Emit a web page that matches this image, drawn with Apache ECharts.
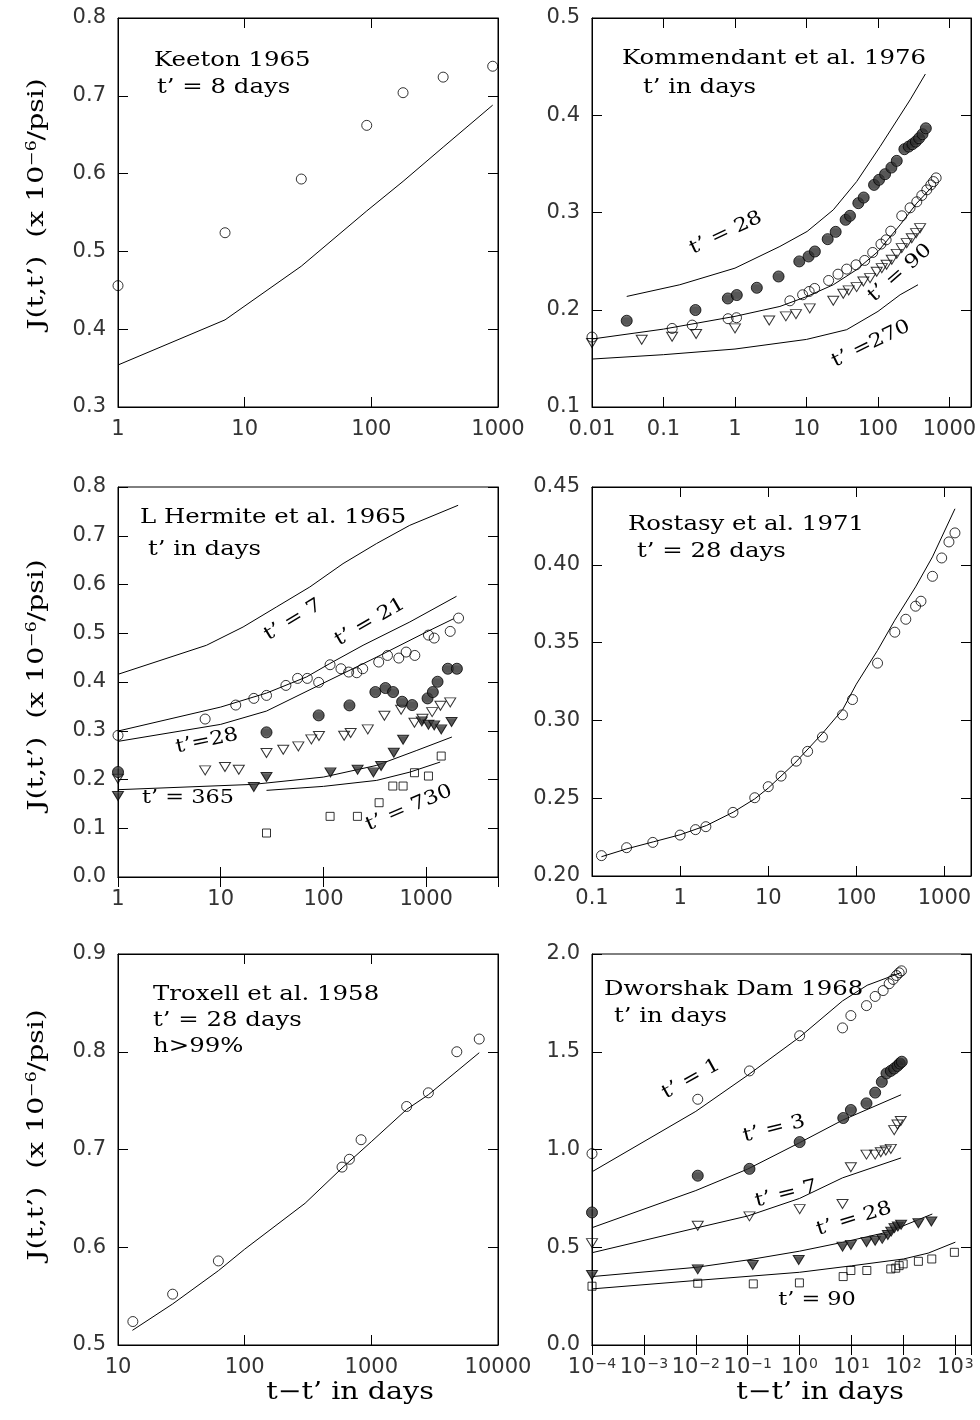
<!DOCTYPE html>
<html><head><meta charset="utf-8">
<script src="https://cdn.jsdelivr.net/npm/echarts@6/dist/echarts.min.js"></script>
<style>html,body{margin:0;padding:0;background:#fff}#c{width:980px;height:1420px}</style>
</head><body><div id="c"></div>
<script>
// ---------- DATA ----------
// Panel 1: Keeton 1965
const keetonData = [[1,0.456],[7,0.524],[28,0.593],[92,0.662],[178,0.704],[369,0.724],[908,0.738]];
const keetonFit  = [[1,0.354],[7,0.412],[28,0.481],[92,0.552],[178,0.590],[369,0.634],[908,0.688]];
// Panel 2: Kommendant et al. 1976
const kommFilled = [[0.0306,0.1887],[0.28,0.1997],[0.794,0.2116],[1.06,0.2151],[2.02,0.2226],[4.07,0.2342],[7.93,0.2497],[10.7,0.2548],[13.1,0.2599],[19.8,0.2726],[25.6,0.2801],[35.3,0.2925],[40.6,0.2966],[53.1,0.3096],[63.1,0.3154],[88.1,0.3284],[103.5,0.3336],[125.6,0.3394],[154,0.3462],[183,0.3531],[234,0.3651],[269,0.3678],[303,0.3702],[338,0.3729],[376,0.3764],[419,0.3805],[467,0.3866]];
const kommOpen = [[0.01,0.1719],[0.132,0.1808],[0.252,0.1842],[0.80,0.1908],[1.05,0.1918],[5.86,0.2092],[8.83,0.2154],[10.9,0.2188],[13.0,0.2219],[20.4,0.2301],[27.6,0.2366],[36.5,0.2418],[49.3,0.2462],[65.2,0.2507],[84.4,0.2589],[110,0.2675],[130,0.2719],[151,0.2808],[215,0.2966],[281,0.3048],[349,0.3110],[410,0.3175],[482,0.3233],[548,0.3284],[597,0.3318],[651,0.3356]];
const kommTri = [[0.01,0.1658],[0.0496,0.1692],[0.132,0.1723],[0.286,0.175],[1.0,0.1808],[3.01,0.189],[5.15,0.1932],[7.12,0.1955],[11.1,0.2014],[23.7,0.2092],[32.7,0.2164],[38.9,0.2199],[50.3,0.2233],[62.5,0.2291],[77.4,0.2325],[96,0.239],[113,0.2428],[132,0.2462],[156,0.2514],[183,0.2575],[215,0.2634],[252,0.2685],[297,0.2736],[341,0.2788],[388,0.2839]];
const komm28Fit  = [[0.0306,0.2137],[0.169,0.2257],[1.0,0.2428],[4.25,0.2651],[10.2,0.2805],[23.7,0.3027],[50.3,0.3318],[107,0.3678],[281,0.4158],[460,0.4424]];
const komm90Fit  = [[0.01,0.1699],[0.1,0.1801],[1,0.1932],[4.25,0.2034],[10.2,0.2137],[23.7,0.2257],[50,0.2411],[100,0.2599],[204,0.2873],[349,0.3096],[580,0.327]];
const komm270Fit = [[0.01,0.1493],[0.1,0.1538],[1,0.1596],[10,0.1695],[36.5,0.1795],[100,0.1983],[204,0.2154],[363,0.2257]];
// Panel 3: L Hermite et al. 1965
const lhOpen = [[1,0.2905],[7.05,0.324],[14.0,0.3527],[21.0,0.3664],[27.9,0.3725],[43.1,0.393],[56.0,0.4074],[69.6,0.4074],[89.8,0.3992],[116,0.4354],[148,0.4272],[176,0.4204],[211,0.419],[241,0.4272],[345,0.4409],[420,0.4545],[541,0.4491],[638,0.4614],[775,0.4545],[1052,0.4962],[1196,0.4901],[1713,0.5038],[2066,0.5311]];
const lhFilled = [[1,0.2153],[27.9,0.2967],[89.8,0.3315],[179,0.352],[320,0.3794],[401,0.3876],[476,0.3794],[583,0.3595],[730,0.3527],[1031,0.3664],[1161,0.3794],[1290,0.4005],[1625,0.4272],[1990,0.4272]];
const lhTri = [[1,0.2016],[7.05,0.2187],[11.0,0.2256],[15.0,0.2201],[27.9,0.2543],[40.6,0.2611],[56.9,0.2679],[76.2,0.2823],[90.4,0.2891],[159,0.2898],[184,0.2953],[270,0.3028],[392,0.3308],[570,0.3431],[769,0.3165],[920,0.3247],[1143,0.3383],[1377,0.3513],[1713,0.3582]];
const lhTriFilled = [[1,0.1661],[21.0,0.1846],[27.9,0.2051],[117,0.2146],[215,0.2201],[306,0.2146],[364,0.2276],[484,0.255],[596,0.2816],[906,0.3192],[1052,0.3124],[1196,0.311],[1400,0.3028],[1766,0.3179]];
const lhSquare = [[27.9,0.0902],[116,0.1244],[214,0.1244],[348,0.1524],[473,0.1866],[596,0.1866],[769,0.2139],[1052,0.2071],[1400,0.2481]];
const lh7Fit   = [[1,0.4158],[7.26,0.4753],[16.5,0.5128],[34.8,0.5538],[73.6,0.5949],[155,0.6428],[328,0.6839],[692,0.7214],[2046,0.7625]];
const lh21Fit  = [[1,0.2994],[10,0.3486],[27.9,0.3773],[68.3,0.4103],[115,0.4377],[243,0.4753],[692,0.5231],[1973,0.5758]];
const lh28Fit  = [[1,0.2782],[10,0.3131],[27.9,0.3404],[100,0.3978],[330,0.4511],[1000,0.5024],[1846,0.5297]];
const lh365Fit = [[1,0.1791],[20.7,0.19],[100,0.205],[330,0.229],[811,0.2597],[1778,0.2871]];
const lh730Fit = [[27.9,0.1777],[100,0.1859],[330,0.1982],[698,0.2153],[1368,0.2358]];
// Panel 4: Rostasy et al. 1971
const rostData = [[0.128,0.2131],[0.247,0.2182],[0.49,0.2216],[1.0,0.2263],[1.495,0.2298],[1.96,0.2317],[3.98,0.2409],[7.03,0.2503],[10,0.2574],[14.0,0.2642],[20.8,0.2738],[28.0,0.2801],[41.2,0.2893],[69.6,0.3036],[90.4,0.3134],[174,0.3368],[273,0.3567],[364,0.365],[470,0.3734],[541,0.3766],[731,0.3926],[930,0.4044],[1124,0.4147],[1315,0.4205]];
const rostFit = [[0.128,0.2124],[0.25,0.2175],[0.5,0.222],[1,0.2265],[2,0.2325],[4,0.241],[7,0.2495],[10,0.2565],[20,0.2725],[41,0.2915],[70,0.307],[100,0.3233],[174,0.345],[273,0.3644],[470,0.3858],[731,0.4051],[1315,0.436]];
// Panel 5: Troxell et al. 1958
const troxData = [[13.1,0.524],[27,0.552],[62,0.586],[587,0.682],[671,0.690],[830,0.710],[1900,0.744],[2820,0.758],[4730,0.800],[7110,0.813]];
const troxFit  = [[13,0.515],[27,0.542],[62,0.576],[100,0.598],[300,0.645],[587,0.681],[1000,0.708],[1900,0.741],[2820,0.756],[7110,0.799]];
// Panel 6: Dworshak Dam 1968
const dw1  = [[1e-4,0.979],[0.0109,1.257],[0.108,1.402],[1.0,1.582],[6.7,1.622],[9.7,1.685],[19.4,1.736],[28.5,1.783],[40.6,1.813],[53,1.848],[63.2,1.870],[73.3,1.890],[82.6,1.904],[91.6,1.914]];
const dw3  = [[1e-4,0.678],[0.0109,0.866],[0.108,0.901],[1.0,1.038],[6.92,1.161],[9.7,1.202],[19.4,1.236],[28.5,1.291],[38.3,1.346],[47.1,1.389],[57,1.402],[66.2,1.414],[76.7,1.428],[85,1.44],[92.8,1.449]];
const dw7  = [[1e-4,0.521],[0.0109,0.61],[0.108,0.658],[1.0,0.695],[6.7,0.721],[9.7,0.909],[19.4,0.974],[28.5,0.974],[36.6,0.986],[45.7,0.995],[57,1.003],[66.2,1.099],[76.7,1.128],[88.9,1.146]];
const dw28 = [[1e-4,0.358],[0.0109,0.387],[0.125,0.409],[0.96,0.435],[6.7,0.503],[9.7,0.512],[19.4,0.526],[28.5,0.533],[39,0.543],[50,0.563],[58,0.58],[67,0.598],[78,0.606],[90,0.615],[194,0.623],[345,0.632]];
const dw90 = [[1e-4,0.3007],[0.0109,0.316],[0.128,0.3126],[0.99,0.3177],[6.9,0.35],[9.7,0.381],[19.7,0.381],[57,0.389],[71,0.393],[82.6,0.406],[98.6,0.415],[194,0.428],[351,0.44],[957,0.474]];
const dw1Fit  = [[1e-4,0.886],[0.01,1.195],[0.1,1.38],[1,1.575],[6.7,1.76],[20,1.84],[90,1.905]];
const dw3Fit  = [[1e-4,0.6],[0.01,0.79],[0.1,0.9],[1,1.035],[6.7,1.15],[90,1.28]];
const dw7Fit  = [[1e-4,0.472],[0.01,0.598],[0.1,0.66],[1,0.75],[6.7,0.855],[90,0.957]];
const dw28Fit = [[1e-4,0.35],[0.01,0.397],[0.1,0.435],[1,0.48],[6.7,0.525],[45,0.575],[100,0.61],[360,0.67]];
const dw90Fit = [[1e-4,0.287],[0.01,0.33],[1,0.372],[10,0.405],[100,0.44],[300,0.47],[1000,0.526]];

// axis ranges / ticks
const xRanges = [[1,1000],[0.01,2000],[1,5000],[0.1,2000],[10,10000],[1e-4,2000]];
const yRanges = [[0.3,0.8,0.1,1],[0.1,0.5,0.1,1],[0,0.8,0.1,1],[0.2,0.45,0.05,2],[0.5,0.9,0.1,1],[0,2.0,0.5,1]];

// ---------- LAYOUT / STYLE ----------
const gridBoxes = [
  {left:118, top:18,  width:380, height:389},
  {left:592, top:18,  width:379, height:389},
  {left:118, top:487, width:380, height:390},
  {left:592, top:487, width:379, height:389},
  {left:118, top:954, width:380, height:391},
  {left:592, top:954, width:379, height:391}
];
const hc = document.createElement('canvas'); hc.width = 4; hc.height = 3;
const hg = hc.getContext('2d');
hg.fillStyle = '#2e2e2e'; hg.fillRect(0,0,4,3);
hg.fillStyle = '#8c8c8c'; hg.fillRect(0,1,4,1);
const hatch = {image: hc, repeat: 'repeat'};

const TICKFONT = 'DejaVu Sans';
const SERIF = 'DejaVu Serif';
const STRETCH = 1.22;

function isPow(v){ const l = Math.log10(v); return Math.abs(l - Math.round(l)) < 1e-6; }
function fmtLog(v){ if(!isPow(v)) return ''; const e = Math.round(Math.log10(v)); return e >= 0 ? String(Math.pow(10,e)) : Math.pow(10,e).toFixed(-e); }
function fmtPow(v){ if(!isPow(v)) return ''; const e = Math.round(Math.log10(v)); return '10{sup|' + (e < 0 ? '\u2212' + (-e) : e) + '}'; }

const xAxes = [], yAxes = [];
gridBoxes.forEach((g, i) => {
  const line = {show:true, lineStyle:{color:'#000', width:1}};
  const tick = {show:true, inside:true, length:10, lineStyle:{color:'#000', width:1}};
  const xb = {type:'log', logBase:10, gridIndex:i, min:xRanges[i][0], max:xRanges[i][1], splitLine:{show:false}, axisLine:line, axisTick:tick, minorTick:{show:false}};
  xAxes.push(Object.assign({}, xb, {position:'bottom', axisLabel:{show:true, margin:12, fontSize:21, fontFamily:TICKFONT, color:'#333', showMinLabel:true, showMaxLabel:true, hideOverlap:false,
    formatter: i === 5 ? fmtPow : fmtLog,
    rich:{sup:{fontSize:14, fontFamily:TICKFONT, color:'#333', verticalAlign:'top', padding:[0,0,0,1]}}}}));
  xAxes.push(Object.assign({}, xb, {position:'top', axisLabel:{show:false}}));
  const yr = yRanges[i];
  const yb = {type:'value', gridIndex:i, min:yr[0], max:yr[1], interval:yr[2], splitLine:{show:false}, axisLine:line, axisTick:tick};
  yAxes.push(Object.assign({}, yb, {position:'left', axisLabel:{show:true, margin:12, fontSize:21, fontFamily:TICKFONT, color:'#333', showMinLabel:true, showMaxLabel:true, formatter: v => v.toFixed(yr[3])}}));
  yAxes.push(Object.assign({}, yb, {position:'right', axisLabel:{show:false}}));
});

const MK = {
  openCircle:  {symbol:'circle', symbolSize:10, itemStyle:{color:'rgba(0,0,0,0)', borderColor:'#000', borderWidth:1}},
  filledCircle:{symbol:'circle', symbolSize:11, itemStyle:{color:hatch, borderColor:'#000', borderWidth:1}},
  openTri:     {symbol:'triangle', symbolRotate:180, symbolSize:[11,9], itemStyle:{color:'rgba(0,0,0,0)', borderColor:'#000', borderWidth:1}},
  filledTri:   {symbol:'triangle', symbolRotate:180, symbolSize:[11,9], itemStyle:{color:hatch, borderColor:'#000', borderWidth:1}},
  openSquare:  {symbol:'rect', symbolSize:8, itemStyle:{color:'rgba(0,0,0,0)', borderColor:'#000', borderWidth:1}}
};
const series = [];
function pts(i, data, mk){ series.push(Object.assign({type:'scatter', xAxisIndex:2*i, yAxisIndex:2*i, data, clip:false, silent:true, z:3}, MK[mk])); }
function fit(i, data){ series.push({type:'line', xAxisIndex:2*i, yAxisIndex:2*i, data, symbol:'none', clip:false, silent:true, smooth:false, lineStyle:{color:'#000', width:1}, z:2}); }

fit(0, keetonFit); pts(0, keetonData, 'openCircle');
fit(1, komm28Fit); fit(1, komm90Fit); fit(1, komm270Fit);
pts(1, kommTri, 'openTri'); pts(1, kommOpen, 'openCircle'); pts(1, kommFilled, 'filledCircle');
fit(2, lh7Fit); fit(2, lh21Fit); fit(2, lh28Fit); fit(2, lh365Fit); fit(2, lh730Fit);
pts(2, lhOpen, 'openCircle'); pts(2, lhTri, 'openTri'); pts(2, lhSquare, 'openSquare'); pts(2, lhFilled, 'filledCircle'); pts(2, lhTriFilled, 'filledTri');
fit(3, rostFit); pts(3, rostData, 'openCircle');
fit(4, troxFit); pts(4, troxData, 'openCircle');
fit(5, dw1Fit); fit(5, dw3Fit); fit(5, dw7Fit); fit(5, dw28Fit); fit(5, dw90Fit);
pts(5, dw1, 'openCircle'); pts(5, dw3, 'filledCircle'); pts(5, dw7, 'openTri'); pts(5, dw28, 'filledTri'); pts(5, dw90, 'openSquare');

// ---------- TEXT ----------
const notes = [
  ['Keeton 1965', 154, 61, 0], ['t\u2019 = 8 days', 157, 88, 0],
  ['Kommendant et al. 1976', 622, 59, 0], ['t\u2019 in days', 643, 88, 0],
  ['L Hermite et al. 1965', 140, 518, 0], ['t\u2019 in days', 148, 550, 0],
  ['Rostasy et al. 1971', 628, 525, 0], ['t\u2019 = 28 days', 637, 552, 0],
  ['Troxell et al. 1958', 153, 995, 0], ['t\u2019 = 28 days', 153, 1021, 0], ['h>99%', 153, 1047, 0],
  ['Dworshak Dam 1968', 604, 990, 0], ['t\u2019 in days', 614, 1017, 0]
];
const curveLabels = [
  ['t\u2019 = 28', 726, 233, 25], ['t\u2019 = 90', 900, 273, 41], ['t\u2019 =270', 871, 344, 26],
  ['t\u2019 = 7', 293, 620, 31], ['t\u2019 = 21', 370, 622, 30], ['t\u2019=28', 207, 741, 12], ['t\u2019 = 365', 188, 798, 0], ['t\u2019 = 730', 409, 808, 23],
  ['t\u2019 = 1', 691, 1079, 29], ['t\u2019 = 3', 774, 1129, 14], ['t\u2019 = 7', 786, 1194, 14], ['t\u2019 = 28', 854, 1219, 17], ['t\u2019 = 90', 817, 1300, 0]
];
const graphic = [];
notes.forEach(n => graphic.push({type:'text', x:n[1], y:n[2], rotation:n[3]*Math.PI/180, scaleX:STRETCH, silent:true,
  style:{text:n[0], fontFamily:SERIF, fontSize:20, fill:'#000', align:'left', verticalAlign:'middle'}}));
curveLabels.forEach(n => graphic.push({type:'text', x:n[1], y:n[2], rotation:n[3]*Math.PI/180, scaleX:1.18, silent:true,
  style:{text:n[0], fontFamily:SERIF, fontSize:19, fill:'#000', align:'center', verticalAlign:'middle'}}));
[204, 685, 1135].forEach(cy => graphic.push({type:'text', x:37, y:cy, rotation:Math.PI/2, scaleX:1.23, silent:true,
  style:{text:'J(t,t\u2019)  (x 10{sup|\u22126}/psi)', fontFamily:SERIF, fontSize:23, fill:'#000', align:'center', verticalAlign:'middle',
    rich:{sup:{fontFamily:SERIF, fontSize:14, fill:'#000', verticalAlign:'top'}}}}));
[350, 820].forEach(cx => graphic.push({type:'text', x:cx, y:1393, scaleX:1.19, silent:true,
  style:{text:'t\u2212t\u2019 in days', fontFamily:SERIF, fontSize:24, fill:'#000', align:'center', verticalAlign:'middle'}}));

const chart = echarts.init(document.getElementById('c'), null, {renderer:'canvas'});
chart.setOption({
  animation:false,
  backgroundColor:'#fff',
  grid: gridBoxes.map(g => Object.assign({show:true, borderColor:'#000', borderWidth:1, backgroundColor:'rgba(0,0,0,0)', containLabel:false}, g)),
  xAxis: xAxes,
  yAxis: yAxes,
  series: series,
  graphic: graphic
});
</script></body></html>
